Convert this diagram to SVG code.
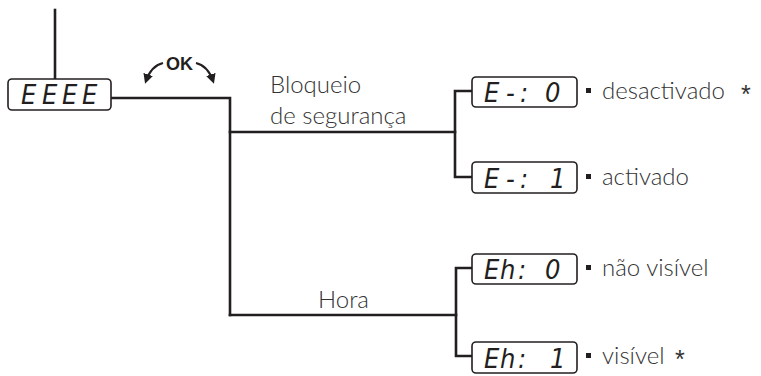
<svg xmlns="http://www.w3.org/2000/svg" width="761" height="376" viewBox="0 0 761 376">
  <style>
    .wire { fill: none; stroke: #231f20; stroke-width: 2.6; stroke-linecap: square; }
    .box { fill: #ffffff; stroke: #231f20; stroke-width: 1.6; }
    .seg { font-family: "Liberation Sans Narrow", "DejaVu Sans Condensed", sans-serif; font-style: italic; font-size: 27px; fill: #231f20; }
    .lbl { font-family: "Lato", "DejaVu Sans", sans-serif; font-weight: 300; font-size: 24px; fill: #333333; }
    .star { font-family: "Liberation Sans", "Arial", sans-serif; font-weight: normal; font-size: 25px; }
    .ok { font-family: "Liberation Sans", "Arial", sans-serif; font-weight: bold; font-size: 18px; fill: #231f20; }
    .arc { fill: none; stroke: #231f20; stroke-width: 2.2; }
    .bullet { fill: #231f20; }
  </style>
  <defs>
    <marker id="tip" viewBox="0 0 10 10" refX="7" refY="5" markerWidth="4.5" markerHeight="4.5" orient="auto" markerUnits="strokeWidth">
      <path d="M0,0 L10,5 L0,10 z" fill="#231f20"/>
    </marker>
  </defs>

  <!-- connectors -->
  <g id="connectors">
    <line class="wire" x1="55" y1="10" x2="55" y2="79"/>
    <polyline class="wire" points="111,98 230,98 230,315"/>
    <line class="wire" x1="230" y1="132" x2="455" y2="132"/>
    <line class="wire" x1="230" y1="315" x2="456" y2="315"/>
    <polyline class="wire" points="472,91 455,91 455,177 472,177"/>
    <polyline class="wire" points="472,268 456,268 456,356 472,356"/>
    <path class="arc" d="M163,63 Q151,66 146,81" marker-end="url(#tip)"/>
    <path class="arc" d="M196,63 Q208,66 213,81" marker-end="url(#tip)"/>
  </g>

  <!-- OK key hint -->
  <g id="ok-key">
    <text class="ok" x="179.5" y="70" text-anchor="middle">OK</text>
  </g>

  <!-- main display -->
  <g id="display-main">
    <rect class="box" x="8" y="79" width="103" height="31" rx="4"/>
    <text class="seg" x="21 42 62 82" y="104">EEEE</text>
  </g>

  <!-- safety lock branch -->
  <g id="branch-lock">
    <text class="lbl" x="270" y="93">Bloqueio</text>
    <text class="lbl" x="270" y="124">de segurança</text>
  </g>
  <g id="lock-off">
    <rect class="box" x="472" y="77" width="105" height="30" rx="4"/>
    <text class="seg" x="484 506 520 545" y="102">E-:0</text>
    <rect class="bullet" x="586" y="88" width="5" height="5"/>
    <text class="lbl" x="602" y="99">desactivado<tspan class="star" x="741" y="103">*</tspan></text>
  </g>
  <g id="lock-on">
    <rect class="box" x="472" y="162" width="105" height="31" rx="4"/>
    <text class="seg" x="484 506 520 550" y="188">E-:1</text>
    <rect class="bullet" x="586" y="174" width="5" height="5"/>
    <text class="lbl" x="602" y="185">activado</text>
  </g>

  <!-- clock branch -->
  <g id="branch-clock">
    <text class="lbl" x="318" y="308">Hora</text>
  </g>
  <g id="clock-hidden">
    <rect class="box" x="472" y="254" width="105" height="30" rx="4"/>
    <text class="seg" x="484 500 518 545" y="279">Eh:0</text>
    <rect class="bullet" x="586" y="265" width="5" height="5"/>
    <text class="lbl" x="602" y="276">não visível</text>
  </g>
  <g id="clock-visible">
    <rect class="box" x="472" y="342" width="105" height="31" rx="4"/>
    <text class="seg" x="484 500 518 550" y="368">Eh:1</text>
    <rect class="bullet" x="586" y="353" width="5" height="5"/>
    <text class="lbl" x="602" y="364">visível<tspan class="star" x="675" y="368">*</tspan></text>
  </g>
</svg>
